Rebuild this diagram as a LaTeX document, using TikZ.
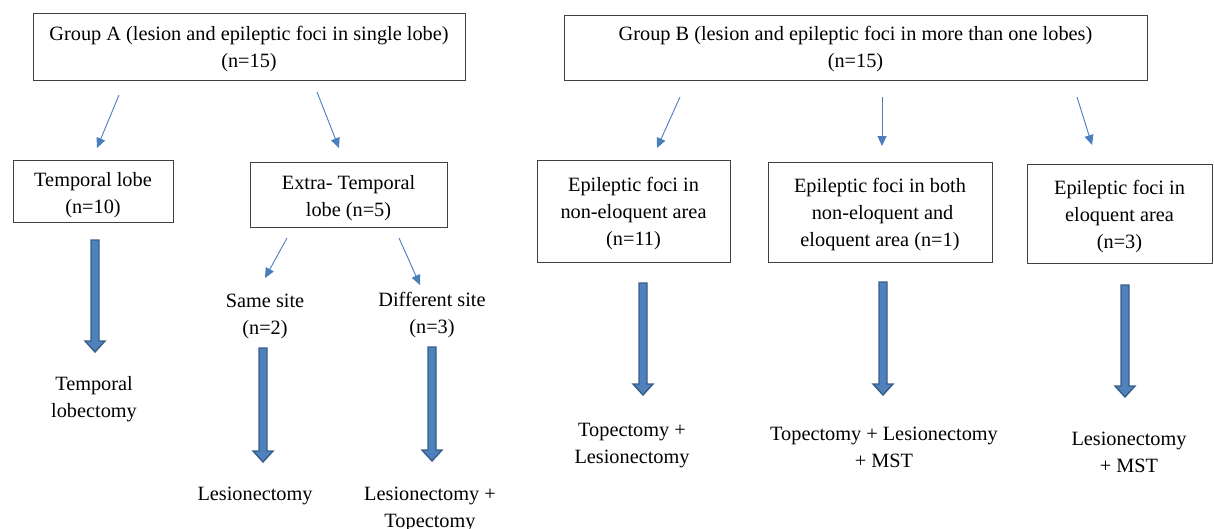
\documentclass[tikz,border=0pt]{standalone}
\usepackage{fontspec}
\setmainfont{Liberation Serif}
\usetikzlibrary{arrows.meta}
\definecolor{thinblue}{HTML}{4A7EBB}
\definecolor{bigfill}{HTML}{4F81BD}
\definecolor{bigline}{HTML}{385D8A}
\definecolor{boxline}{HTML}{404040}
\tikzset{
  txt/.style={align=center, inner sep=0pt, font=\fontsize{20.3}{27}\selectfont},
  gbox/.style={draw=boxline, line width=0.9pt, rectangle, inner sep=0pt},
  thin/.style={draw=thinblue, line width=0.9pt, -{Triangle[width=9pt,length=10pt]}},
  bigarrow/.style={fill=bigfill, draw=bigline, line width=1.4pt, line join=miter}
}
\newcommand\bigarr[3]{\filldraw[bigarrow] (#1-4,#2) -- (#1+4,#2) -- (#1+4,#3-11) -- (#1+10,#3-11) -- (#1,#3) -- (#1-10,#3-11) -- (#1-4,#3-11) -- cycle;}
\begin{document}
\begin{tikzpicture}[x=1pt,y=-1pt]
\useasboundingbox (0,0) rectangle (1214,528);
% top boxes
\node[gbox, minimum width=432pt, minimum height=67pt] (ga) at (249,46.5) {};
\node[txt] (gat) at ([yshift=-2.5pt]ga.center) {Group A (lesion and epileptic foci in single lobe)\\(n=15)};
\node[gbox, minimum width=583pt, minimum height=65pt] (gb) at (855.5,47.5) {};
\node[txt] (gbt) at ([yshift=-2pt]gb.center) {Group B (lesion and epileptic foci in more than one lobes)\\(n=15)};
% group A children
\node[gbox, minimum width=160pt, minimum height=62pt] (tl) at (93,191) {};
\node[txt] (tlt) at ([yshift=-4pt]tl.center) {Temporal lobe\\(n=10)};
\node[gbox, minimum width=197pt, minimum height=65pt] (et) at (348.5,194.5) {};
\node[txt] (ett) at ([yshift=-4pt]et.center) {Extra- Temporal\\lobe (n=5)};
\node[txt] (ss) at (265,316) {Same site\\(n=2)};
\node[txt] (ds) at (432,315.5) {Different site\\(n=3)};
\node[txt] (tlo) at (94,399.5) {Temporal\\lobectomy};
\node[txt] (les) at (255,496) {Lesionectomy};
\node[txt] (lt) at (430,509) {Lesionectomy +\\Topectomy};
% group B children
\node[gbox, minimum width=193pt, minimum height=102pt] (ne) at (633.5,211) {};
\node[txt] (net) at ([yshift=-3pt]ne.center) {Epileptic foci in\\non-eloquent area\\(n=11)};
\node[gbox, minimum width=224pt, minimum height=100pt] (bo) at (880,212) {};
\node[txt] (bot) at ([yshift=-3pt]bo.center) {Epileptic foci in both\\\ non-eloquent and\\eloquent area (n=1)};
\node[gbox, minimum width=185pt, minimum height=99pt] (el) at (1119.5,213.5) {};
\node[txt] (elt) at ([yshift=-3pt]el.center) {Epileptic foci in\\eloquent area\\(n=3)};
\node[txt] (o1) at (632,445.5) {Topectomy +\\Lesionectomy};
\node[txt] (o2) at (884,447) {Topectomy + Lesionectomy\\+ MST};
\node[txt] (o3) at (1129,452) {Lesionectomy\\+ MST};
% thin arrow endpoints
\coordinate (a1s) at (119,95);  \coordinate (a1e) at (97,148);
\coordinate (a2s) at (317,92);  \coordinate (a2e) at (339,148);
\coordinate (a3s) at (287,238); \coordinate (a3e) at (265,278);
\coordinate (a4s) at (399,238); \coordinate (a4e) at (420,285);
\coordinate (b1s) at (680,97);  \coordinate (b1e) at (657,148);
\coordinate (b2s) at (882,97);  \coordinate (b2e) at (882,146);
\coordinate (b3s) at (1077,97); \coordinate (b3e) at (1092,145);
\foreach \s/\e in {a1s/a1e,a2s/a2e,a3s/a3e,a4s/a4e,b1s/b1e,b2s/b2e,b3s/b3e}
  \draw[thin] (\s) -- (\e);
% thick arrows
\bigarr{95}{240}{352}
\bigarr{263}{348}{462}
\bigarr{432}{347}{461}
\bigarr{643}{283}{395}
\bigarr{883}{282}{395}
\bigarr{1125}{285}{397}
\end{tikzpicture}
\end{document}
